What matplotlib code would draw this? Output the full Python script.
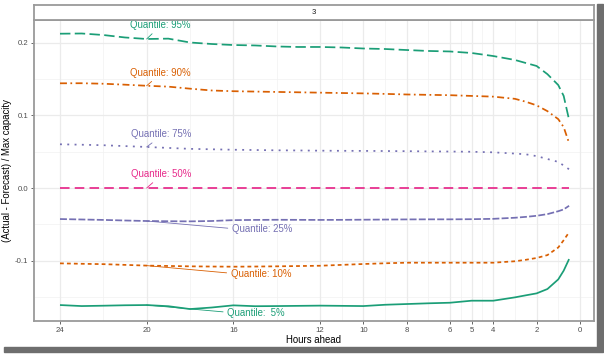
import matplotlib.pyplot as plt
from matplotlib.patches import Rectangle
import numpy as np

plt.rcParams['font.family'] = ['Liberation Sans', 'DejaVu Sans']

# hours ahead (common grid for all quantile curves)
hours = [24, 23, 22, 21, 20, 19, 18, 17, 16, 15, 14, 13, 12, 11, 10, 9, 8, 7, 6, 5,
         4, 3, 2.5, 2, 1.5, 1, 0.75, 0.5]

q95 = [0.2128, 0.2131, 0.211, 0.2076, 0.2055, 0.206, 0.2007, 0.1986, 0.1972, 0.1966,
       0.1952, 0.1945, 0.1945, 0.1938, 0.1924, 0.1917, 0.1903, 0.189, 0.1883, 0.1862,
       0.182, 0.1766, 0.1724, 0.1683, 0.157, 0.142, 0.127, 0.094]
q90 = [0.1444, 0.1445, 0.1438, 0.1425, 0.141, 0.1398, 0.137, 0.1345, 0.1335, 0.133,
       0.1325, 0.132, 0.1315, 0.131, 0.1305, 0.1298, 0.129, 0.1285, 0.128, 0.127,
       0.126, 0.123, 0.119, 0.114, 0.106, 0.095, 0.084, 0.062]
q75 = [0.0603, 0.0597, 0.059, 0.0578, 0.0566, 0.0553, 0.054, 0.0534, 0.0528, 0.0524,
       0.052, 0.0518, 0.0515, 0.0513, 0.0512, 0.051, 0.0508, 0.0505, 0.0503, 0.05,
       0.0492, 0.0475, 0.0465, 0.044, 0.040, 0.036, 0.031, 0.0258]
q50 = [0.0] * len(hours)
q25 = [-0.0428, -0.0434, -0.044, -0.0448, -0.0455, -0.0458, -0.046, -0.0455, -0.0443,
       -0.044, -0.0438, -0.0439, -0.044, -0.0439, -0.0437, -0.0435, -0.0433, -0.0432,
       -0.0432, -0.043, -0.0425, -0.041, -0.0398, -0.0383, -0.036, -0.032, -0.0295,
       -0.0245]
q10 = [-0.1039, -0.1045, -0.105, -0.106, -0.107, -0.1075, -0.108, -0.1083, -0.1085,
       -0.1083, -0.108, -0.1076, -0.1072, -0.106, -0.1048, -0.1038, -0.103, -0.103,
       -0.103, -0.103, -0.103, -0.101, -0.099, -0.0965, -0.0925, -0.082, -0.072, -0.061]
q05 = [-0.1614, -0.1628, -0.1623, -0.1617, -0.1614, -0.163, -0.1669, -0.1648, -0.1618,
       -0.163, -0.1628, -0.1625, -0.1622, -0.1625, -0.1628, -0.161, -0.16, -0.159,
       -0.1582, -0.1554, -0.1554, -0.1508, -0.148, -0.1453, -0.1393, -0.126, -0.114,
       -0.098]

labels = ['Quantile: 95%', 'Quantile: 90%', 'Quantile: 75%', 'Quantile: 50%',
          'Quantile: 25%', 'Quantile: 10%', 'Quantile:  5%']
series = [q95, q90, q75, q50, q25, q10, q05]
colors = ['#1B9E77', '#D95F02', '#7570B3', '#E7298A', '#7570B3', '#D95F02', '#1B9E77']
dashes = [(6, 2.5), (4, 2, 1, 2), (1.1, 3.1), (5.5, 3), (4, 1.3), (2.2, 1.8), None]

# label anchor (hours, value) for the repelled labels
label_x = [19.38, 19.38, 19.33, 19.33, 14.67, 14.72, 14.95]
label_y = [0.2248, 0.159, 0.0741, 0.0193, -0.0566, -0.1182, -0.172]

x_breaks = [24, 20, 16, 12, 10, 8, 6, 5, 4, 2, 0]
x_minor = [22, 18, 14, 11, 9, 7, 5.5, 4.5, 3, 1]
y_breaks = [-0.1, 0.0, 0.1, 0.2]
y_minor = [-0.15, -0.05, 0.05, 0.15]

fig = plt.figure(figsize=(6.04, 3.54), dpi=100)
ax = fig.add_axes([34 / 604, 33 / 354, 560 / 604, 301 / 354])

for xm in x_minor:
    ax.axvline(xm, color='#F2F2F2', lw=0.5, zorder=0)
for ym in y_minor:
    ax.axhline(ym, color='#F2F2F2', lw=0.5, zorder=0)
for xb in x_breaks:
    ax.axvline(xb, color='#EBEBEB', lw=0.9, zorder=0)
for yb in y_breaks:
    ax.axhline(yb, color='#EBEBEB', lw=0.9, zorder=0)

for s, c, d in zip(series, colors, dashes):
    line, = ax.plot(hours, s, color=c, lw=1.25, solid_capstyle='butt')
    if d is not None:
        line.set_dashes(d)
        line.set_dash_capstyle('butt')

for i in range(len(series)):
    y0 = series[i][hours.index(20)]
    upper = i < 4
    ax.annotate(labels[i], xy=(20, y0), xytext=(label_x[i], label_y[i]),
                ha='center', va='center', fontsize=6.9, color=colors[i],
                arrowprops=dict(arrowstyle='-', color=colors[i], lw=0.6,
                                shrinkA=1, shrinkB=0,
                                relpos=(0.45, 0.1) if upper else (0.0, 0.55)))

ax.set_xlim(25.2, -0.65)
ax.set_ylim(-0.1834, 0.2317)
ax.set_xticks(x_breaks)
ax.set_xticklabels([str(b) for b in x_breaks])
ax.set_yticks(y_breaks)
ax.set_yticklabels(['-0.1', '0.0', '0.1', '0.2'])
ax.tick_params(labelsize=5.6, labelcolor='#4D4D4D', color='#4D4D4D', length=2.5,
               width=0.6, pad=1.5)
for sp in ax.spines.values():
    sp.set_color('#9A9A9A')
    sp.set_linewidth(1.3)
ax.set_xlabel('Hours ahead', fontsize=6.9, labelpad=1)
ax.set_ylabel('(Actual - Forecast) / Max capacity', fontsize=6.9, labelpad=2)

# facet strip
strip = fig.add_axes([34 / 604, 334 / 354, 560 / 604, 15 / 354])
strip.set_xticks([])
strip.set_yticks([])
for sp in strip.spines.values():
    sp.set_color('#9A9A9A')
    sp.set_linewidth(1.3)
strip.text(0.5, 0.5, '3', ha='center', va='center', fontsize=5.5, color='#1A1A1A',
           transform=strip.transAxes)

# screenshot drop shadow on right and bottom
fig.patches.append(Rectangle((597 / 604, 4 / 354), 6 / 604, 346 / 354,
                             transform=fig.transFigure, color='#6E6E6E', zorder=-1))
fig.patches.append(Rectangle((4 / 604, 2 / 354), 599 / 604, 5 / 354,
                             transform=fig.transFigure, color='#6E6E6E', zorder=-1))

fig.savefig('out.png', dpi=100)
